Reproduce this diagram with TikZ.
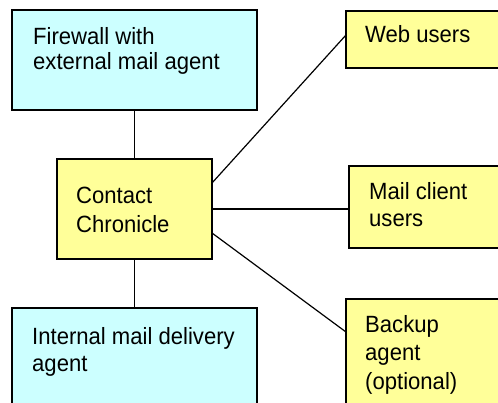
\documentclass[tikz,border=0pt]{standalone}
\usepackage{fontspec}
\setmainfont[FakeStretch=0.94]{Liberation Sans}
\usetikzlibrary{calc}
\definecolor{boxcyan}{HTML}{CCFFFF}
\definecolor{boxyellow}{HTML}{FFFF99}
\tikzset{
  box/.style={draw=black, line width=1.2pt, rectangle, inner sep=0pt, outer sep=0pt, anchor=north west},
  cyanbox/.style={box, fill=boxcyan},
  yellowbox/.style={box, fill=boxyellow},
  lbl/.style={anchor=base west, inner sep=0pt, align=left, text=black},
  conn/.style={draw=black, line width=1.2pt}
}
\begin{document}
\begin{tikzpicture}[x=1pt,y=-1pt]
\useasboundingbox (0,0) rectangle (498,403);
\clip (0,0) rectangle (498,403);
\node[cyanbox, minimum width=245pt, minimum height=100pt] (fw) at (12,10) {};
\node[yellowbox, minimum width=180pt, minimum height=57pt] (web) at (346,11) {};
\node[yellowbox, minimum width=155pt, minimum height=100pt] (cc) at (57,159) {};
\node[yellowbox, minimum width=180pt, minimum height=82pt] (mail) at (349,166) {};
\node[cyanbox, minimum width=245pt, minimum height=120pt] (im) at (12,308) {};
\node[yellowbox, minimum width=180pt, minimum height=130pt] (bk) at (346,299) {};

% anchor base = baseline of the last line
\node[lbl, font={\fontsize{23.5}{25}\selectfont}] (fwt) at ($(fw.north west)+(21,60)$) {Firewall with\\external mail agent};
\node[lbl, font={\fontsize{23.5}{29}\selectfont}] (cct) at ($(cc.north west)+(19,74)$) {Contact\\Chronicle};
\node[lbl, font={\fontsize{23.5}{27}\selectfont}] (webt) at ($(web.north west)+(19,32)$) {Web users};
\node[lbl, font={\fontsize{23.5}{27}\selectfont}] (mailt) at ($(mail.north west)+(20,61)$) {Mail client\\users};
\node[lbl, font={\fontsize{23.5}{27}\selectfont}] (imt) at ($(im.north west)+(20,63)$) {Internal mail delivery\\agent};
\node[lbl, font={\fontsize{23.5}{28.5}\selectfont}] (bkt) at ($(bk.north west)+(19,90)$) {Backup\\agent\\(optional)};

\draw[conn] (fw.south) -- (cc.north);
\draw[conn] (cc.south) -- (im.north);
\draw[conn] ([yshift=26pt]cc.east) -- ([yshift=-24pt]web.north west);
\draw[conn] (cc.east) -- (cc.east -| mail.west);
\draw[conn] ([yshift=-24pt]cc.east) -- ([yshift=-33pt]bk.north west);
\end{tikzpicture}
\end{document}
